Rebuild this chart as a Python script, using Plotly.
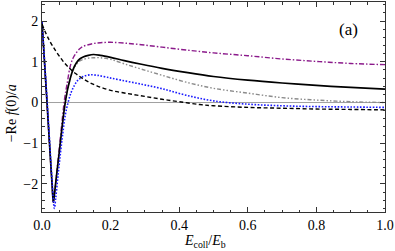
import plotly.graph_objects as go

# ---- data ----
x_solid = [0, 0.008, 0.016, 0.024, 0.03, 0.033, 0.037, 0.043, 0.05, 0.058, 0.066, 0.074, 0.082, 0.09, 0.1,
           0.11, 0.12, 0.135, 0.15, 0.17, 0.2, 0.24, 0.29, 0.35, 0.42, 0.5, 0.6, 0.7, 0.8, 0.9, 1.0]
y_solid = [1.98, 0.9, -0.2, -1.3, -2.1, -2.45, -2.2, -1.75, -1.25, -0.65, -0.1, 0.3, 0.58, 0.8, 0.97,
           1.07, 1.12, 1.16, 1.18, 1.16, 1.11, 1.03, 0.94, 0.84, 0.74, 0.64, 0.55, 0.48, 0.42, 0.37, 0.33]

x_purple = [0, 0.008, 0.016, 0.024, 0.03, 0.033, 0.037, 0.043, 0.05, 0.058, 0.066, 0.074, 0.082, 0.09, 0.1,
            0.11, 0.12, 0.135, 0.15, 0.17, 0.2, 0.24, 0.29, 0.35, 0.42, 0.5, 0.6, 0.7, 0.8, 0.9, 1.0]
y_purple = [1.98, 0.9, -0.2, -1.3, -2.1, -2.45, -2.2, -1.7, -1.15, -0.5, 0.1, 0.5, 0.88, 1.08, 1.22,
            1.32, 1.38, 1.42, 1.45, 1.47, 1.48, 1.46, 1.42, 1.36, 1.29, 1.22, 1.15, 1.07, 1.01, 0.96, 0.93]

x_gray = [0, 0.008, 0.016, 0.024, 0.03, 0.033, 0.037, 0.043, 0.05, 0.058, 0.066, 0.074, 0.082, 0.09, 0.1,
          0.11, 0.12, 0.135, 0.15, 0.17, 0.2, 0.24, 0.29, 0.35, 0.42, 0.5, 0.6, 0.7, 0.8, 0.9, 1.0]
y_gray = [1.98, 0.9, -0.2, -1.3, -2.1, -2.45, -2.2, -1.75, -1.25, -0.65, -0.1, 0.3, 0.58, 0.78, 0.93,
          1.02, 1.06, 1.09, 1.1, 1.1, 1.06, 0.95, 0.82, 0.67, 0.5, 0.35, 0.23, 0.12, 0.06, 0.02, 0.0]

x_blue = [0, 0.008, 0.016, 0.024, 0.03, 0.036, 0.04, 0.046, 0.053, 0.06, 0.068, 0.076, 0.085, 0.095, 0.105,
          0.12, 0.14, 0.16, 0.19, 0.23, 0.29, 0.35, 0.42, 0.5, 0.6, 0.7, 0.8, 0.9, 1.0]
y_blue = [1.98, 0.95, -0.1, -1.2, -2.0, -2.6, -2.35, -1.85, -1.3, -0.8, -0.3, 0.0, 0.25, 0.43, 0.55,
          0.64, 0.68, 0.67, 0.62, 0.55, 0.45, 0.34, 0.18, 0.04, -0.04, -0.08, -0.1, -0.11, -0.12]

x_dashed = [0, 0.02, 0.04, 0.06, 0.08, 0.1, 0.13, 0.16, 0.2, 0.25, 0.3, 0.35, 0.4, 0.46, 0.5, 0.6, 0.7,
            0.8, 0.9, 1.0]
y_dashed = [1.92, 1.55, 1.27, 1.03, 0.84, 0.7, 0.53, 0.41, 0.3, 0.22, 0.15, 0.08, 0.02, -0.05, -0.08,
            -0.12, -0.14, -0.16, -0.17, -0.18]

x_ticks = [0.0, 0.2, 0.4, 0.6, 0.8, 1.0]
x_ticklabels = ["0.0", "0.2", "0.4", "0.6", "0.8", "1.0"]
y_ticks = [-2, -1, 0, 1, 2]
y_ticklabels = ["\u22122", "\u22121", "0", "1", "2"]

FONT = "Liberation Serif"

fig = go.Figure()

# zero reference line
fig.add_trace(go.Scatter(x=[0, 1], y=[0, 0], mode="lines",
                         line=dict(color="#a0a0a0", width=1), showlegend=False, hoverinfo="skip"))

fig.add_trace(go.Scatter(x=x_purple, y=y_purple, mode="lines", line_shape="spline",
                         line=dict(color="#8b1a8b", width=1.4, dash="5px,2px,1.5px,2px"),
                         showlegend=False))
fig.add_trace(go.Scatter(x=x_gray, y=y_gray, mode="lines", line_shape="spline",
                         line=dict(color="#8c8c8c", width=1.4, dash="4px,2px,1.5px,2px,1.5px,2px"),
                         showlegend=False))
fig.add_trace(go.Scatter(x=x_solid, y=y_solid, mode="lines", line_shape="spline",
                         line=dict(color="black", width=1.7), showlegend=False))
fig.add_trace(go.Scatter(x=x_blue, y=y_blue, mode="lines", line_shape="spline",
                         line=dict(color="#1a1aff", width=1.6, dash="1.6px,1.6px"),
                         showlegend=False))
fig.add_trace(go.Scatter(x=x_dashed, y=y_dashed, mode="lines", line_shape="spline",
                         line=dict(color="black", width=1.4, dash="4px,2.5px"),
                         showlegend=False))

fig.add_annotation(x=0.895, y=1.8, xref="x", yref="y", text="(a)", showarrow=False,
                   font=dict(family=FONT, size=17, color="black"))

# axis titles
fig.add_annotation(x=0.475, y=0, xref="paper", yref="paper", yshift=-19, yanchor="top",
                   text="<i>E</i><sub>coll</sub>/<i>E</i><sub>b</sub>", showarrow=False,
                   font=dict(family=FONT, size=14, color="black"))
fig.add_annotation(x=0, y=0.47, xref="paper", yref="paper", xshift=-20, xanchor="right",
                   text="\u2212Re <i>f</i>(0)/<i>a</i>", showarrow=False, textangle=-90,
                   font=dict(family=FONT, size=14, color="black"))

axis_common = dict(showgrid=False, zeroline=False, showline=True, linecolor="#333", linewidth=1,
                   mirror="allticks", ticks="inside", ticklen=5, tickcolor="#333", automargin=False,
                   tickfont=dict(family=FONT, size=14, color="black"))

fig.update_xaxes(range=[0, 1], tickvals=x_ticks, ticktext=x_ticklabels,
                 minor=dict(dtick=0.05, tick0=0, ticks="inside", ticklen=2.5, tickcolor="#333"),
                 **axis_common)
fig.update_yaxes(range=[-2.69, 2.47], tickvals=y_ticks, ticktext=y_ticklabels,
                 minor=dict(dtick=0.2, tick0=0, ticks="inside", ticklen=2.5, tickcolor="#333"),
                 **axis_common)

fig.update_layout(template="none", width=395, height=251, margin=dict(l=42, r=10, t=2, b=39),
                  font=dict(family=FONT, size=14, color="black"),
                  plot_bgcolor="white", paper_bgcolor="white")

fig.write_html("out.html", config={"displayModeBar": False},
               post_script="document.body.style.margin='0';document.body.style.padding='0';")
